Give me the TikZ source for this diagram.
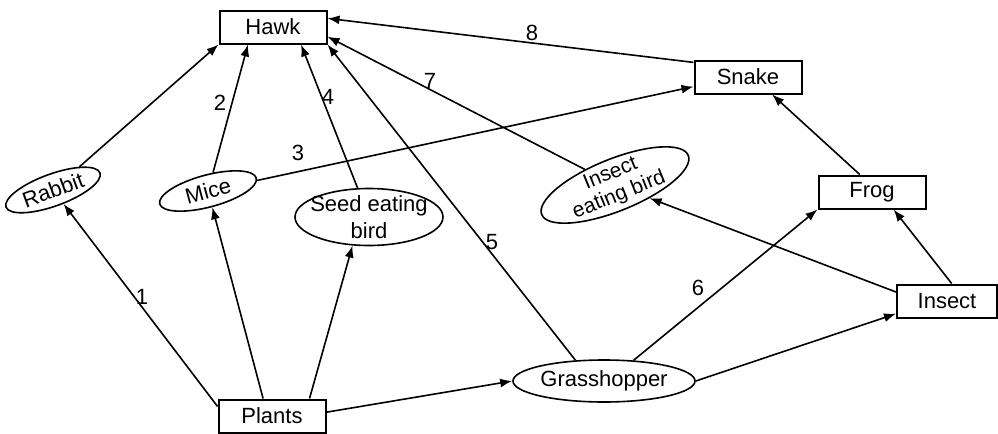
\documentclass[tikz,border=0pt]{standalone}
\usepackage{fontspec}
\setmainfont{Liberation Sans}
\usetikzlibrary{shapes.geometric,arrows.meta}
\begin{document}
\begin{tikzpicture}[x=.5pt, y=-.5pt, font=\fontsize{11}{13.5}\selectfont]
        \tikzstyle{fwbox} = [draw, line width=1pt, rectangle, minimum width=53.5pt, minimum height=16.5pt, inner sep=0pt]
        \tikzstyle{fwell} = [draw, line width=.8pt, ellipse, inner sep=0pt, align=center]
        \tikzstyle{fweat} = [line width=.8pt, -{Latex[length=6pt,width=4.5pt]}]
        \tikzstyle{fwnum} = [inner sep=1pt]
    \useasboundingbox (0,0) rectangle (998,434);
    \node[fwbox] (hawk) at (273,27) {Hawk};
    \node[fwbox] (snake) at (748,77) {Snake};
    \node[fwbox] (frog) at (872,192) {Frog};
    \node[fwbox, minimum width=50pt] (insect) at (947,301) {Insect};
    \node[fwbox] (plants) at (272,416) {Plants};
    \node[fwell, rotate=20, minimum width=50pt, minimum height=16pt] (rabbit) at (53,190) {Rabbit};
    \node[fwell, rotate=15, minimum width=50pt, minimum height=16pt] (mice) at (208,191) {Mice};
    \node[fwell, minimum width=74pt, minimum height=28.5pt, inner xsep=-3.5pt, inner ysep=-2pt] (seed) at (369,217) {Seed eating\\bird};
    \node[fwell, rotate=22, minimum width=79pt, minimum height=26pt, inner xsep=-2pt, inner ysep=-2.5pt, font=\fontsize{10.5}{11.5}\selectfont] (ieb) at (615,185) {Insect\\eating bird};
    \node[fwell, minimum width=91pt, minimum height=21pt] (grass) at (604,381) {Grasshopper};

    \draw[fweat] (rabbit) -- (hawk.south west);
    \draw[fweat] (mice) -- (hawk.-145);
    \draw[fweat] (seed) -- (hawk.-32);
    \draw[fweat] (grass.144) -- (hawk.south east);
    \draw[fweat] (ieb) -- (hawk.-10);
    \draw[fweat] (snake.165) -- (hawk.9);
    \draw[fweat] (mice) -- (snake.190);
    \draw[fweat] (frog.125) -- (snake.-36);
    \draw[fweat] (insect.75) -- (frog.-39);
    \draw[fweat] (grass.35) -- (frog.south west);
    \draw[fweat] (grass.east) -- (insect.194);
    \draw[fweat] (insect.170) -- (ieb);
    \draw[fweat] (plants.170) -- (rabbit);
    \draw[fweat] (plants.117) -- (mice);
    \draw[fweat] (plants.25) -- (seed.-120);
    \draw[fweat] (plants.4) -- (grass.west);

    \node[fwnum] (n1) at (142,297) {1};
    \node[fwnum] (n2) at (220,103) {2};
    \node[fwnum] (n3) at (298,153) {3};
    \node[fwnum] (n4) at (328,97) {4};
    \node[fwnum] (n5) at (492,242) {5};
    \node[fwnum] (n6) at (698,288) {6};
    \node[fwnum] (n7) at (430,81) {7};
    \node[fwnum] (n8) at (532,33) {8};
\end{tikzpicture}
\end{document}
